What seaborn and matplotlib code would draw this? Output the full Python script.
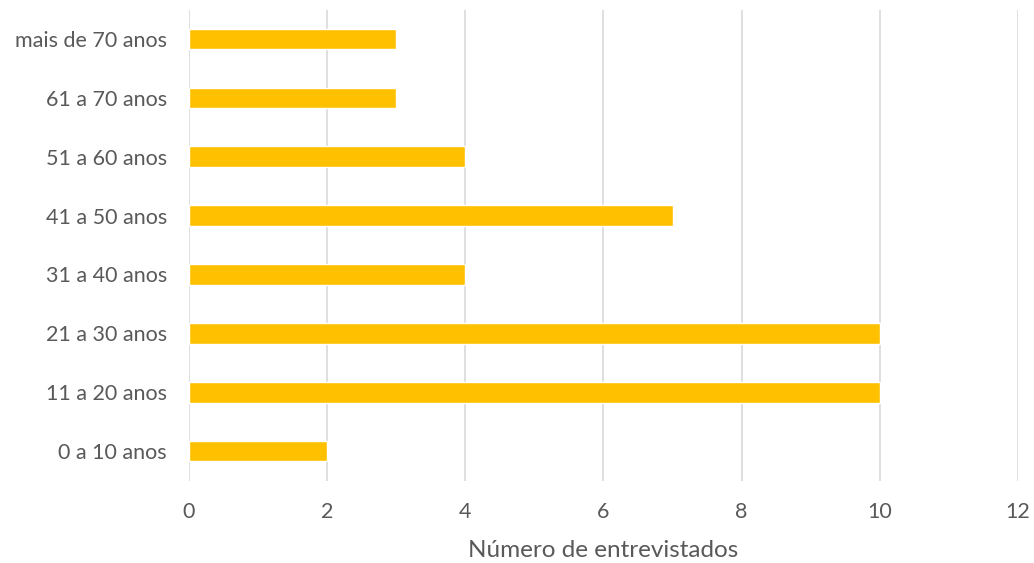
import matplotlib
matplotlib.use("Agg")
import matplotlib.pyplot as plt
import seaborn as sns
import pandas as pd

# Age groups (bottom to top as drawn) and number of interviewees
faixas = ["0 a 10 anos", "11 a 20 anos", "21 a 30 anos", "31 a 40 anos",
          "41 a 50 anos", "51 a 60 anos", "61 a 70 anos", "mais de 70 anos"]
entrevistados = [2, 10, 10, 4, 7, 4, 3, 3]
x_ticks = [0, 2, 4, 6, 8, 10, 12]

sns.set_theme(style="white")
plt.rcParams["font.family"] = ["Lato", "DejaVu Sans"]

df = pd.DataFrame({"faixa": faixas[::-1], "n": entrevistados[::-1]})

fig = plt.figure(figsize=(10.34, 5.63), dpi=100)
ax = fig.add_axes([0.1828, 0.1465, 0.8017, 0.8365])

sns.barplot(data=df, x="n", y="faixa", orient="h", color="#FFC000",
            saturation=1, width=0.35, ax=ax, zorder=3)

ax.set_xlim(0, 12)
ax.set_ylim(len(faixas) - 0.5, -0.5)
ax.set_xticks(x_ticks)
ax.xaxis.grid(True, color="#D9D9D9", linewidth=1.2, zorder=0)
ax.yaxis.grid(False)
for s in ax.spines.values():
    s.set_visible(False)

ax.tick_params(axis="both", length=0, labelsize=15.5, colors="#595959")
ax.tick_params(axis="x", pad=15.5)
ax.tick_params(axis="y", pad=16)
ax.set_ylabel("")
ax.set_xlabel("Número de entrevistados", fontsize=17.5, color="#595959", labelpad=13)

fig.savefig("out.png", dpi=100)
